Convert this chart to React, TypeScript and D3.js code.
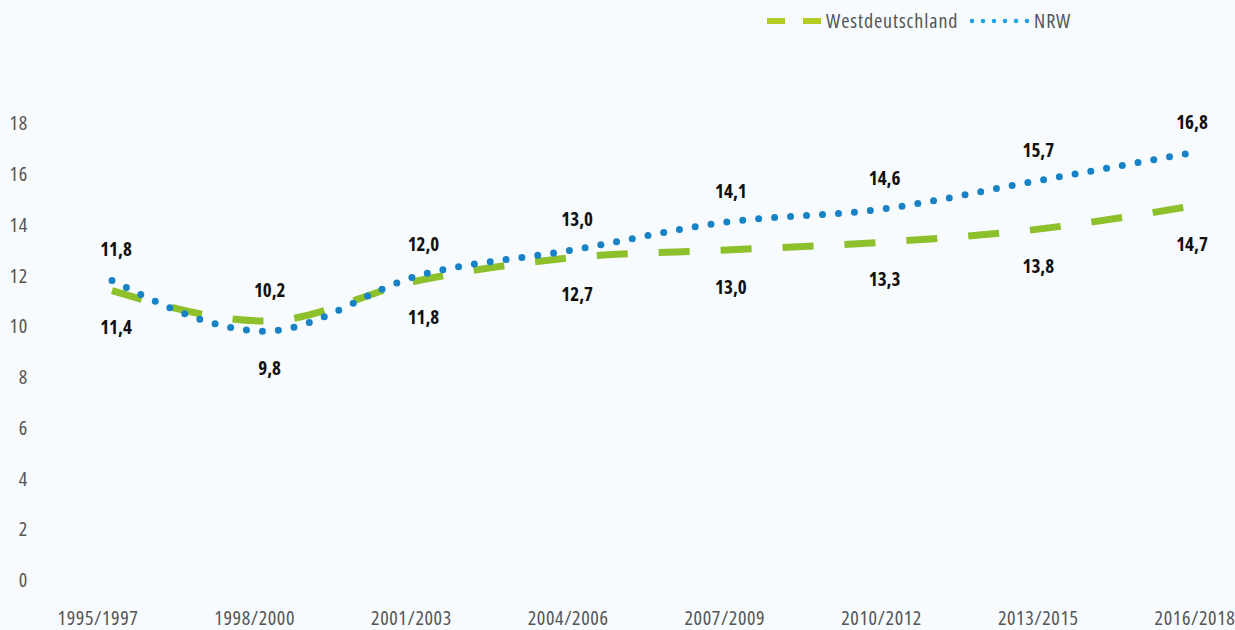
import React, { useEffect, useRef } from "react";
import * as d3 from "d3";

const periods = [
  "1995/1997",
  "1998/2000",
  "2001/2003",
  "2004/2006",
  "2007/2009",
  "2010/2012",
  "2013/2015",
  "2016/2018",
];
const westValues = [11.4, 10.2, 11.8, 12.7, 13.0, 13.3, 13.8, 14.7];
const nrwValues = [11.8, 9.8, 12.0, 13.0, 14.1, 14.6, 15.7, 16.8];
// which side of the line the value label sits on
const westLabelAbove = [false, true, false, false, false, false, false, false];
const nrwLabelAbove = [true, false, true, true, true, true, true, true];
const yTicks = [0, 2, 4, 6, 8, 10, 12, 14, 16, 18];

const FONT = "'Open Sans', 'Noto Sans', sans-serif";

const App = () => {
  const svgRef = useRef<SVGSVGElement>(null);

  useEffect(() => {
    document.body.style.margin = "0";
    const svg = d3.select(svgRef.current);
    svg.selectAll("*").remove();

    const width = 1235;
    const height = 630;

    svg
      .attr("width", width)
      .attr("height", height)
      .style("display", "block")
      .style("font-family", FONT)
      .style("font-stretch", "75%");
    svg
      .append("rect")
      .attr("width", width)
      .attr("height", height)
      .attr("fill", "#f7fbfd");

    // scales
    const x = d3.scalePoint().domain(periods).range([112, 1188]);
    const xLabel = d3.scalePoint().domain(periods).range([98, 1195]);
    const y = d3.scaleLinear().domain([0, 18]).range([580, 123]);

    // y axis labels
    svg
      .append("g")
      .selectAll("text")
      .data(yTicks)
      .enter()
      .append("text")
      .attr("x", 28)
      .attr("y", (d) => y(d))
      .attr("dy", "0.36em")
      .attr("text-anchor", "end")
      .attr("font-size", 20)
      .attr("letter-spacing", 0.8)
      .attr("fill", "#555")
      .text((d) => d);

    // x axis labels
    svg
      .append("g")
      .selectAll("text")
      .data(periods)
      .enter()
      .append("text")
      .attr("x", (d) => xLabel(d))
      .attr("y", 625)
      .attr("text-anchor", "middle")
      .attr("font-size", 20)
      .attr("letter-spacing", 0.6)
      .attr("fill", "#555")
      .text((d) => d);

    const line = d3
      .line<number>()
      .x((d, i) => x(periods[i]))
      .y((d) => y(d))
      .curve(d3.curveMonotoneX);

    // Westdeutschland - dashed green
    svg
      .append("path")
      .datum(westValues)
      .attr("d", line)
      .attr("fill", "none")
      .attr("stroke", "#8dc02a")
      .attr("stroke-width", 7)
      .attr("stroke-dasharray", "31 31");

    // NRW - dotted blue
    svg
      .append("path")
      .datum(nrwValues)
      .attr("d", line)
      .attr("fill", "none")
      .attr("stroke", "#1783c6")
      .attr("stroke-width", 7)
      .attr("stroke-linecap", "round")
      .attr("stroke-dasharray", "0 16");

    // value labels
    const fmt = (v: number) => v.toFixed(1).replace(".", ",");
    const addLabels = (values: number[], above: boolean[]) => {
      svg
        .append("g")
        .selectAll("text")
        .data(values)
        .enter()
        .append("text")
        .attr("x", (d, i) => x(periods[i]) + 4)
        .attr("y", (d, i) => y(d) + (above[i] ? -31 : 37))
        .attr("dy", "0.36em")
        .attr("text-anchor", "middle")
        .attr("font-size", 19)
        .attr("font-weight", "bold")
        .attr("fill", "#111")
        .text((d) => fmt(d));
    };
    addLabels(nrwValues, nrwLabelAbove);
    addLabels(westValues, westLabelAbove);

    // legend
    const legend = svg.append("g");
    legend
      .append("line")
      .attr("x1", 767)
      .attr("x2", 822)
      .attr("y1", 21)
      .attr("y2", 21)
      .attr("stroke", "#b4cc22")
      .attr("stroke-width", 6)
      .attr("stroke-dasharray", "18 18");
    legend
      .append("text")
      .attr("x", 826)
      .attr("y", 21)
      .attr("dy", "0.36em")
      .attr("font-size", 20)
      .attr("letter-spacing", 0.9)
      .attr("fill", "#555")
      .text("Westdeutschland");
    legend
      .append("line")
      .attr("x1", 972)
      .attr("x2", 1028)
      .attr("y1", 21)
      .attr("y2", 21)
      .attr("stroke", "#1aa3e6")
      .attr("stroke-width", 4.5)
      .attr("stroke-linecap", "round")
      .attr("stroke-dasharray", "0 11");
    legend
      .append("text")
      .attr("x", 1034)
      .attr("y", 21)
      .attr("dy", "0.36em")
      .attr("font-size", 20)
      .attr("letter-spacing", 0.9)
      .attr("fill", "#555")
      .text("NRW");
  }, []);

  return <svg ref={svgRef}></svg>;
};

export default App;
